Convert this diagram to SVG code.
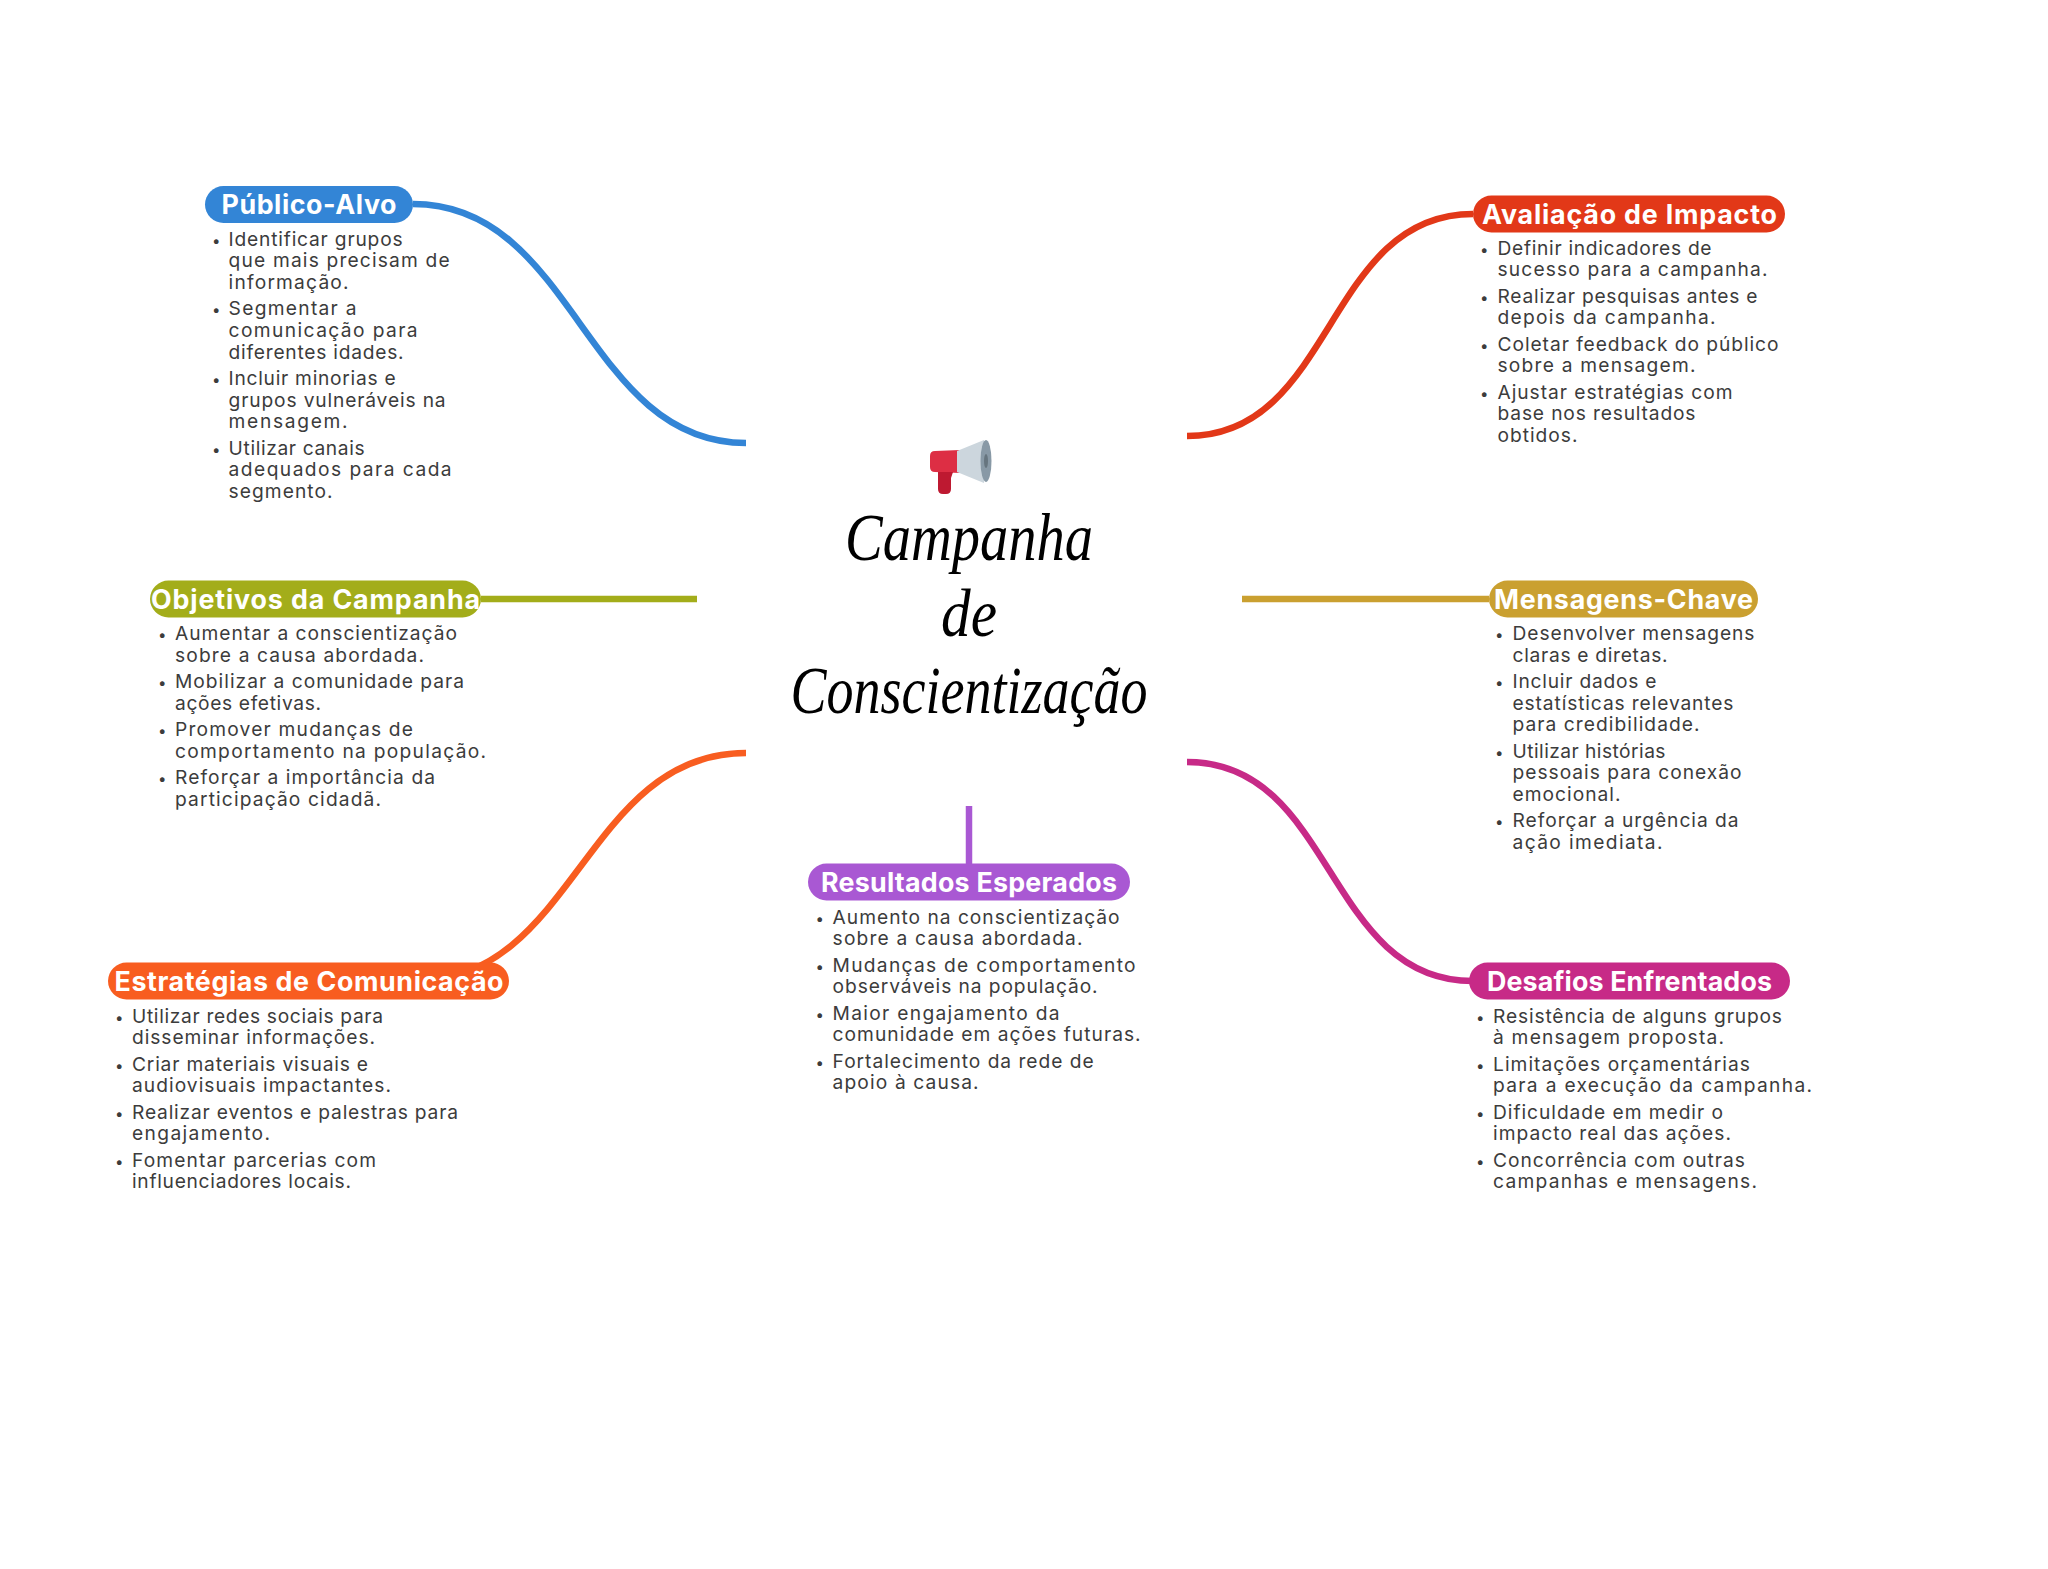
<svg xmlns="http://www.w3.org/2000/svg" width="2048" height="1569" viewBox="0 0 2048 1569">
<style>
text{font-family:"Inter","Liberation Sans",sans-serif}
.t{font-size:19.2px;fill:#3c3c3c;font-weight:400;transform:translateY(.8px)}
.b{font-size:15px;fill:#3c3c3c;transform:translateY(.8px)}
.h{font-size:26.8px;font-weight:700;fill:#fff;text-anchor:middle}
.c{fill:none;stroke-width:6.5}
.title{font-family:"Liberation Serif",serif;font-style:italic;font-size:68px;fill:#000;text-anchor:middle}
</style>
<rect width="2048" height="1569" fill="#fff"/>
<g id="connectors">
<path class="c" stroke="#3385d6" d="M413 204C575 204 585 443 746 443"/>
<path class="c" stroke="#e23818" d="M1473 214C1325 214 1335 436 1187 436"/>
<path class="c" stroke="#a3ad1a" d="M481 599H697"/>
<path class="c" stroke="#caa030" d="M1242 599H1489"/>
<path class="c" stroke="#f85d20" d="M746 753C585 753 575 981 415 981"/>
<path class="c" stroke="#c72a87" d="M1187 762C1335 762 1325 981 1473 981"/>
<path class="c" stroke="#a958d3" d="M969 806V864"/>
</g>
<g id="central">
<path fill="#dd2e44" d="M930 456q0-5 5-5l25-1v23l-25-1q-5 0-5-5z"/>
<path fill="#be1931" d="M938 472h15l-2 6v11q0 5-5 5h-3q-5 0-5-5z"/>
<path fill="#ccd6dd" d="M957 451l27-11v43l-27-11z"/>
<ellipse cx="986" cy="461" rx="5.5" ry="21" fill="#8899a6"/>
<ellipse cx="986" cy="461" rx="2" ry="7" fill="#66757f"/>
<text class="title" x="969" y="560" textLength="248" lengthAdjust="spacingAndGlyphs">Campanha</text>
<text class="title" x="969" y="636" textLength="56" lengthAdjust="spacingAndGlyphs">de</text>
<text class="title" x="969" y="713" textLength="357" lengthAdjust="spacingAndGlyphs">Conscientização</text>
</g>
<g id="publico-alvo">
<rect x="205" y="186" width="208" height="37" rx="18.5" fill="#3385d6"/>
<text class="h" x="309" y="213.5" textLength="175">Público-Alvo</text>
<text class="b" x="212" y="245">•</text><text class="t" x="228.6" y="245" textLength="174">Identificar grupos</text>
<text class="t" x="228.6" y="266.6" textLength="221">que mais precisam de</text>
<text class="t" x="228.6" y="288.2" textLength="120">informação.</text>
<text class="b" x="212" y="314.6">•</text><text class="t" x="228.6" y="314.6" textLength="128">Segmentar a</text>
<text class="t" x="228.6" y="336.2" textLength="189">comunicação para</text>
<text class="t" x="228.6" y="357.8" textLength="175">diferentes idades.</text>
<text class="b" x="212" y="384.2">•</text><text class="t" x="228.6" y="384.2" textLength="167">Incluir minorias e</text>
<text class="t" x="228.6" y="405.8" textLength="217">grupos vulneráveis na</text>
<text class="t" x="228.6" y="427.4" textLength="119">mensagem.</text>
<text class="b" x="212" y="453.8">•</text><text class="t" x="228.6" y="453.8" textLength="136">Utilizar canais</text>
<text class="t" x="228.6" y="475.4" textLength="223">adequados para cada</text>
<text class="t" x="228.6" y="497" textLength="104">segmento.</text>
</g>
<g id="objetivos">
<rect x="150" y="580.5" width="331" height="37" rx="18.5" fill="#a3ad1a"/>
<text class="h" x="315.5" y="608.5" textLength="329">Objetivos da Campanha</text>
<text class="b" x="158" y="639.4">•</text><text class="t" x="175" y="639.4" textLength="282">Aumentar a conscientização</text>
<text class="t" x="175" y="661" textLength="249">sobre a causa abordada.</text>
<text class="b" x="158" y="687.4">•</text><text class="t" x="175" y="687.4" textLength="289">Mobilizar a comunidade para</text>
<text class="t" x="175" y="709" textLength="146">ações efetivas.</text>
<text class="b" x="158" y="735.4">•</text><text class="t" x="175" y="735.4" textLength="238">Promover mudanças de</text>
<text class="t" x="175" y="757" textLength="311">comportamento na população.</text>
<text class="b" x="158" y="783.4">•</text><text class="t" x="175" y="783.4" textLength="260">Reforçar a importância da</text>
<text class="t" x="175" y="805" textLength="206">participação cidadã.</text>
</g>
<g id="estrategias">
<rect x="108" y="962.5" width="401" height="37" rx="18.5" fill="#f85d20"/>
<text class="h" x="309" y="990.5" textLength="389">Estratégias de Comunicação</text>
<text class="b" x="115" y="1022">•</text><text class="t" x="132" y="1022" textLength="251">Utilizar redes sociais para</text>
<text class="t" x="132" y="1043.6" textLength="243">disseminar informações.</text>
<text class="b" x="115" y="1070">•</text><text class="t" x="132" y="1070" textLength="236">Criar materiais visuais e</text>
<text class="t" x="132" y="1091.6" textLength="259">audiovisuais impactantes.</text>
<text class="b" x="115" y="1118">•</text><text class="t" x="132" y="1118" textLength="326">Realizar eventos e palestras para</text>
<text class="t" x="132" y="1139.6" textLength="138">engajamento.</text>
<text class="b" x="115" y="1166">•</text><text class="t" x="132" y="1166" textLength="244">Fomentar parcerias com</text>
<text class="t" x="132" y="1187.6" textLength="219">influenciadores locais.</text>
</g>
<g id="resultados">
<rect x="808" y="863.5" width="322" height="37" rx="18.5" fill="#a958d3"/>
<text class="h" x="969" y="891.5" textLength="296">Resultados Esperados</text>
<text class="b" x="815.5" y="922.8">•</text><text class="t" x="832.6" y="922.8" textLength="287">Aumento na conscientização</text>
<text class="t" x="832.6" y="944.4" textLength="250">sobre a causa abordada.</text>
<text class="b" x="815.5" y="970.8">•</text><text class="t" x="832.6" y="970.8" textLength="303">Mudanças de comportamento</text>
<text class="t" x="832.6" y="992.4" textLength="265">observáveis na população.</text>
<text class="b" x="815.5" y="1018.8">•</text><text class="t" x="832.6" y="1018.8" textLength="227">Maior engajamento da</text>
<text class="t" x="832.6" y="1040.4" textLength="308">comunidade em ações futuras.</text>
<text class="b" x="815.5" y="1066.8">•</text><text class="t" x="832.6" y="1066.8" textLength="261">Fortalecimento da rede de</text>
<text class="t" x="832.6" y="1088.4" textLength="146">apoio à causa.</text>
</g>
<g id="avaliacao">
<rect x="1473" y="195.5" width="312" height="37" rx="18.5" fill="#e23818"/>
<text class="h" x="1629.5" y="223.5" textLength="295">Avaliação de Impacto</text>
<text class="b" x="1480" y="254">•</text><text class="t" x="1497.5" y="254" textLength="214">Definir indicadores de</text>
<text class="t" x="1497.5" y="275.6" textLength="270">sucesso para a campanha.</text>
<text class="b" x="1480" y="302">•</text><text class="t" x="1497.5" y="302" textLength="260">Realizar pesquisas antes e</text>
<text class="t" x="1497.5" y="323.6" textLength="218">depois da campanha.</text>
<text class="b" x="1480" y="350">•</text><text class="t" x="1497.5" y="350" textLength="281">Coletar feedback do público</text>
<text class="t" x="1497.5" y="371.6" textLength="198">sobre a mensagem.</text>
<text class="b" x="1480" y="398">•</text><text class="t" x="1497.5" y="398" textLength="235">Ajustar estratégias com</text>
<text class="t" x="1497.5" y="419.6" textLength="198">base nos resultados</text>
<text class="t" x="1497.5" y="441.2" textLength="80">obtidos.</text>
</g>
<g id="mensagens">
<rect x="1489" y="580.5" width="269" height="37" rx="18.5" fill="#caa030"/>
<text class="h" x="1623.5" y="608.5" textLength="259">Mensagens-Chave</text>
<text class="b" x="1495" y="639.4">•</text><text class="t" x="1512.5" y="639.4" textLength="242">Desenvolver mensagens</text>
<text class="t" x="1512.5" y="661" textLength="155">claras e diretas.</text>
<text class="b" x="1495" y="687.4">•</text><text class="t" x="1512.5" y="687.4" textLength="144">Incluir dados e</text>
<text class="t" x="1512.5" y="709" textLength="221">estatísticas relevantes</text>
<text class="t" x="1512.5" y="730.6" textLength="187">para credibilidade.</text>
<text class="b" x="1495" y="757">•</text><text class="t" x="1512.5" y="757" textLength="153">Utilizar histórias</text>
<text class="t" x="1512.5" y="778.6" textLength="229">pessoais para conexão</text>
<text class="t" x="1512.5" y="800.2" textLength="108">emocional.</text>
<text class="b" x="1495" y="826.6">•</text><text class="t" x="1512.5" y="826.6" textLength="226">Reforçar a urgência da</text>
<text class="t" x="1512.5" y="848.2" textLength="150">ação imediata.</text>
</g>
<g id="desafios">
<rect x="1469" y="962.5" width="321" height="37" rx="18.5" fill="#c72a87"/>
<text class="h" x="1629.5" y="990.5" textLength="285">Desafios Enfrentados</text>
<text class="b" x="1476" y="1022">•</text><text class="t" x="1493" y="1022" textLength="289">Resistência de alguns grupos</text>
<text class="t" x="1493" y="1043.6" textLength="231">à mensagem proposta.</text>
<text class="b" x="1476" y="1070">•</text><text class="t" x="1493" y="1070" textLength="257">Limitações orçamentárias</text>
<text class="t" x="1493" y="1091.6" textLength="319">para a execução da campanha.</text>
<text class="b" x="1476" y="1118">•</text><text class="t" x="1493" y="1118" textLength="230">Dificuldade em medir o</text>
<text class="t" x="1493" y="1139.6" textLength="238">impacto real das ações.</text>
<text class="b" x="1476" y="1166">•</text><text class="t" x="1493" y="1166" textLength="252">Concorrência com outras</text>
<text class="t" x="1493" y="1187.6" textLength="264">campanhas e mensagens.</text>
</g>
</svg>
